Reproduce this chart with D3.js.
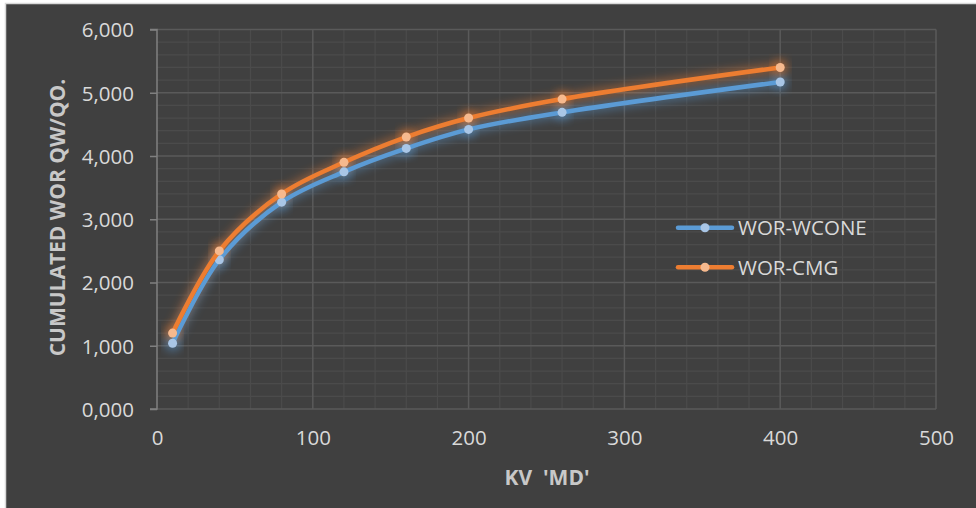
<!DOCTYPE html>
<html><head><meta charset="utf-8">
<script src="https://cdn.jsdelivr.net/npm/d3@7"></script>
<style>
html,body{margin:0;padding:0;background:#ffffff;}
svg{display:block;}
</style></head>
<body>
<script>
const kv = [10, 40, 80, 120, 160, 200, 260, 400];
const worWcone = [1.04, 2.36, 3.27, 3.75, 4.12, 4.42, 4.69, 5.17];
const worCmg = [1.2, 2.5, 3.4, 3.9, 4.3, 4.6, 4.9, 5.4];
const seriesNames = ["WOR-WCONE", "WOR-CMG"];
const xTicks = [0, 100, 200, 300, 400, 500];
const yTicks = [0, 1, 2, 3, 4, 5, 6];
const xTitle = "KV  'MD'";
const yTitle = "CUMULATED WOR QW/QO.";

const W = 976, H = 508;
const font = "'Open Sans', 'Noto Sans', sans-serif";
const FS = 20.5;
const svg = d3.select("body").append("svg").attr("width", W).attr("height", H);

const defs = svg.append("defs");
const glow = defs.append("filter").attr("id","glow").attr("x","-20%").attr("y","-40%").attr("width","140%").attr("height","180%");
glow.append("feGaussianBlur").attr("stdDeviation", 5);

// chart area
svg.append("rect").attr("x",5.5).attr("y",3.5).attr("width",W+10).attr("height",H+10)
  .attr("fill","#404040").attr("stroke","#d9d9d9").attr("stroke-width",1.5);

const x = d3.scaleLinear().domain([0,500]).range([157,936]);
const y = d3.scaleLinear().domain([0,6]).range([409,29.5]);
const loc = d3.formatLocale({decimal:",", thousands:".", grouping:[3], currency:["",""]});
const yFmt = loc.format(".3f");

const g = svg.append("g");
// minor gridlines
g.append("g").selectAll("line").data(d3.range(0,501,20).filter(v=>v%100!==0)).join("line")
  .attr("x1",d=>x(d)).attr("x2",d=>x(d)).attr("y1",y(0)).attr("y2",y(6))
  .attr("stroke","#4b4b4b").attr("stroke-width",1.2);
g.append("g").selectAll("line").data(d3.range(0,6.01,0.2).map(v=>+v.toFixed(1)).filter(v=>Math.abs(v-Math.round(v))>1e-6)).join("line")
  .attr("x1",x(0)).attr("x2",x(500)).attr("y1",d=>y(d)).attr("y2",d=>y(d))
  .attr("stroke","#4b4b4b").attr("stroke-width",1.2);
// major gridlines
g.append("g").selectAll("line").data(xTicks.slice(1)).join("line")
  .attr("x1",d=>x(d)).attr("x2",d=>x(d)).attr("y1",y(0)).attr("y2",y(6))
  .attr("stroke","#5a5a5a").attr("stroke-width",1.5);
g.append("g").selectAll("line").data(yTicks).join("line")
  .attr("x1",x(0)).attr("x2",x(500)).attr("y1",d=>y(d)).attr("y2",d=>y(d))
  .attr("stroke","#5a5a5a").attr("stroke-width",1.5);

// y axis
const yAxis = d3.axisLeft(y).tickValues(yTicks).tickFormat(yFmt).tickSize(7).tickPadding(16);
const ya = svg.append("g").attr("transform",`translate(${x(0)},0)`).call(yAxis);
ya.select(".domain").attr("stroke","#808080").attr("stroke-width",1.5).attr("d",`M-7,${y(6)}H0V${y(0)}H-7`);
ya.selectAll(".tick line").attr("stroke","#808080").attr("stroke-width",1.5);
ya.selectAll(".tick text").attr("fill","#d9d9d9").attr("font-family",font).attr("font-size",FS).attr("dy","0.36em");

// x axis
const xAxis = d3.axisBottom(x).tickValues(xTicks).tickFormat(d3.format("d")).tickSize(0).tickPadding(21);
const xa = svg.append("g").attr("transform",`translate(0,${y(0)})`).call(xAxis);
xa.select(".domain").remove();
xa.selectAll(".tick text").attr("fill","#d9d9d9").attr("font-family",font).attr("font-size",FS);

// titles
svg.append("text").attr("x",547).attr("y",485).attr("text-anchor","middle")
  .attr("fill","#c8c8c8").attr("font-family",font).attr("font-weight","bold").attr("font-size",21)
  .attr("xml:space","preserve").style("white-space","pre").text(xTitle);
svg.append("text").attr("transform","translate(65,217.5) rotate(-90)").attr("text-anchor","middle")
  .attr("fill","#c8c8c8").attr("font-family",font).attr("font-weight","bold").attr("font-size",21).text(yTitle);

// series
const series = [
  {name: seriesNames[0], vals: worWcone, color:"#5b9bd5", marker:"#a9c6e6"},
  {name: seriesNames[1], vals: worCmg, color:"#ed7d31", marker:"#f6b98e"}
];
const line = d3.line().x(d=>x(d[0])).y(d=>y(d[1])).curve(d3.curveCatmullRom.alpha(0.5));
series.forEach(s=>{
  const pts = kv.map((k,i)=>[k, s.vals[i]]);
  const sg = svg.append("g");
  sg.append("path").attr("d",line(pts)).attr("fill","none").attr("stroke",s.color)
    .attr("stroke-width",9).attr("opacity",0.45).attr("filter","url(#glow)");
  sg.selectAll("circle.gl").data(pts).join("circle").attr("class","gl")
    .attr("cx",d=>x(d[0])).attr("cy",d=>y(d[1])).attr("r",8).attr("fill",s.color).attr("opacity",0.5).attr("filter","url(#glow)");
});
series.forEach(s=>{
  const pts = kv.map((k,i)=>[k, s.vals[i]]);
  const sg = svg.append("g");
  sg.append("path").attr("d",line(pts)).attr("fill","none").attr("stroke",s.color)
    .attr("stroke-width",4.5).attr("stroke-linecap","round");
  sg.selectAll("circle.m").data(pts).join("circle").attr("class","m")
    .attr("cx",d=>x(d[0])).attr("cy",d=>y(d[1])).attr("r",4.5).attr("fill",s.marker);
});

// legend
const lg = svg.append("g");
series.forEach((s,i)=>{
  const ly = 227.7 + i*39.6;
  lg.append("line").attr("x1",678).attr("x2",732).attr("y1",ly).attr("y2",ly)
    .attr("stroke",s.color).attr("stroke-width",4.5).attr("stroke-linecap","round");
  lg.append("circle").attr("cx",705).attr("cy",ly).attr("r",4.5).attr("fill",s.marker);
  lg.append("text").attr("x",738).attr("y",ly).attr("dy","0.36em").attr("fill","#d9d9d9")
    .attr("font-family",font).attr("font-size",FS).text(s.name);
});
</script>
</body></html>
